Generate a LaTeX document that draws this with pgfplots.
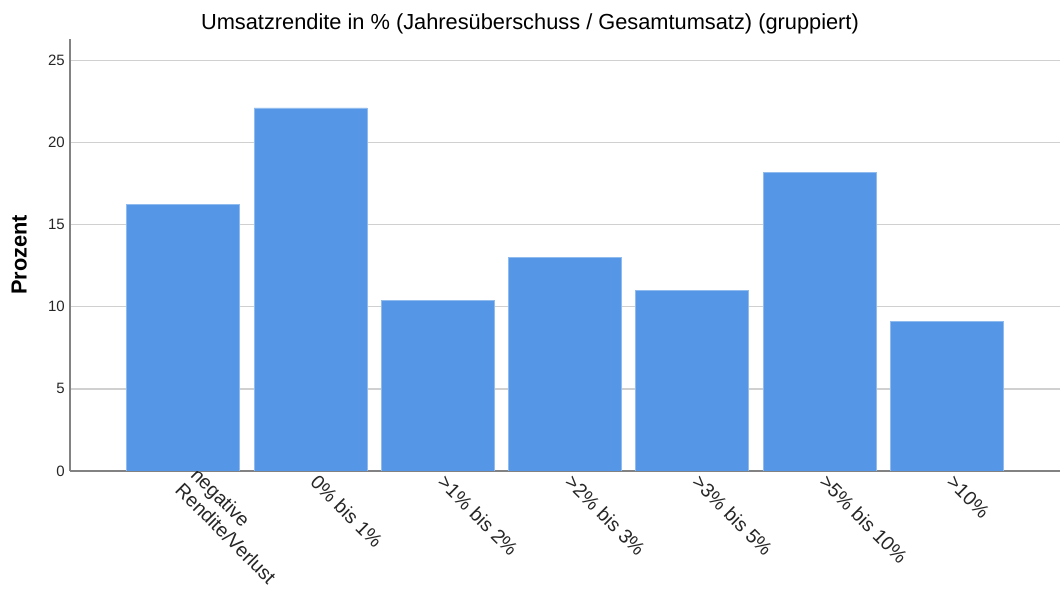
\documentclass[border=0pt]{standalone}
\usepackage{pgfplots}
\pgfplotsset{compat=1.18}
\usepackage{fontspec}
\setmainfont{Liberation Sans}
\definecolor{barblue}{RGB}{85,150,230}
\definecolor{gridgray}{RGB}{208,208,208}
\definecolor{axisgray}{RGB}{130,130,130}
\begin{document}
\begin{tikzpicture}[x=1pt,y=1pt]
\useasboundingbox (0,0) rectangle (1060,601);
\begin{axis}[
  at={(70pt,130pt)}, anchor=south west,
  scale only axis, width=990pt, height=432pt,
  xmin=-0.89, xmax=6.89, ymin=0, ymax=26.3,
  axis x line*=bottom, axis y line*=left,
  axis line style={axisgray, line width=1.6pt},
  ytick={0,5,10,15,20,25},
  xtick={0,1,2,3,4,5,6},
  xticklabels={{negative\\Rendite/Verlust},{0\% bis 1\%},{>1\% bis 2\%},{>2\% bis 3\%},{>3\% bis 5\%},{>5\% bis 10\%},{>10\%}},
  ymajorgrids, grid style={gridgray, line width=1.3pt},
  ytick style={draw=none},
  xtick style={draw=none},
  /pgf/number format/assume math mode=true,
  yticklabel style={font=\fontsize{15}{17}\selectfont, text=black!85, inner sep=0pt, xshift=-5pt},
  xticklabel style={font=\fontsize{19.5}{22}\selectfont, text=black!85, rotate=-45, anchor=west, align=left, inner sep=1pt, xshift=4pt},
  ylabel={\textbf{Prozent}},
  ylabel style={font=\fontsize{21.8}{24}\selectfont, at={(axis description cs:-0.0434,0.5)}, anchor=south, inner sep=0pt},
  title={Umsatzrendite in \% (Jahresüberschuss / Gesamtumsatz) (gruppiert)},
  title style={font=\fontsize{21.8}{24}\selectfont, at={(axis description cs:0.4646,1)}, anchor=base, yshift=3pt, inner sep=0pt},
  ybar, bar width=113pt,
]
\addplot[fill=barblue, draw=barblue!65!white, line width=0.8pt] coordinates {(0,16.2) (1,22.1) (2,10.4) (3,13.0) (4,11.0) (5,18.2) (6,9.1)};
\end{axis}
\end{tikzpicture}
\end{document}
